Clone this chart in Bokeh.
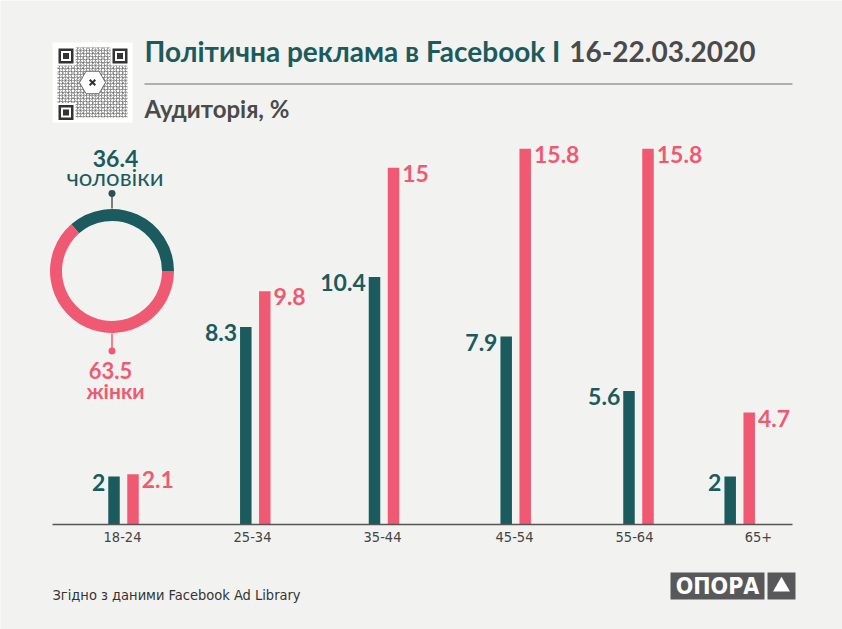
from bokeh.plotting import figure
from bokeh.models import Range1d, ColumnDataSource
from bokeh.core.properties import value
from bokeh.embed import file_html
from bokeh.resources import INLINE
import math

# ---------------- data ----------------
age_groups = ["18-24", "25-34", "35-44", "45-54", "55-64", "65+"]
men = [2, 8.3, 10.4, 7.9, 5.6, 2]
women = [2.1, 9.8, 15, 15.8, 15.8, 4.7]
share_labels = ["чоловіки", "жінки"]
share_values = [36.4, 63.5]
title_main = "Політична реклама в Facebook І"
title_date = "16-22.03.2020"
subtitle = "Аудиторія, %"
source_note = "Згідно з даними  Facebook Ad Library"
logo_text = "ОПОРА"

# ---------------- layout / style ----------------
W, H = 842, 629
BG = "#f2f3f1"
TEAL = "#1b5b5d"
PINK = "#ef5a72"
GRAY = "#4a4a4a"
BOLD = "Lato"
NARROW = "Liberation Sans Narrow, DejaVu Sans Condensed, sans-serif"
K_BOLD = 0.387     # middle-of-box above baseline (em), Lato
K_NARROW = 0.347   # Liberation Sans Narrow

group_x = [123, 254.8, 383.5, 515.2, 638, 739.2]   # bar group centres (px)
label_x = [122, 252, 382, 514, 634, 758]          # tick label centres (px)
bar_off = 9.5
bar_w = 11.5
base_px = 523.5       # baseline (page px from top)
px_per_unit = 23.75

y0 = -(H - base_px) / px_per_unit
y1 = base_px / px_per_unit

p = figure(width=W, height=H, output_backend="svg", toolbar_location=None,
           x_range=Range1d(0, W), y_range=Range1d(y0, y1),
           x_axis_type=None, y_axis_type=None, min_border=0)
p.extra_y_ranges = {"px": Range1d(-H, 0)}
p.background_fill_color = BG
p.border_fill_color = BG
p.outline_line_color = None
p.grid.visible = False


def Y(v):
    return -v


def label(x, baseline, text, size, color, font=BOLD, bold=True, align="left"):
    k = K_BOLD if font == BOLD else K_NARROW
    p.text(x=[x], y=[Y(baseline - k * size)], text=[text], y_range_name="px",
           text_align=align, text_baseline="middle", text_font=value(font),
           text_font_style="bold" if bold else "normal",
           text_font_size=f"{size}px", text_color=color)


# ---------------- bars ----------------
VS = 23
src = ColumnDataSource(dict(
    xm=[g - bar_off for g in group_x],
    xw=[g + bar_off for g in group_x],
    men=men, women=women,
    lm=[f"{v:g}" for v in men], lw=[f"{v:g}" for v in women],
    xlm=[g - bar_off - bar_w / 2 - 3 for g in group_x],
    xlw=[g + bar_off + bar_w / 2 + 3 for g in group_x],
))
p.vbar(x="xm", top="men", bottom=0, width=bar_w, source=src, fill_color=TEAL, line_color=None)
p.vbar(x="xw", top="women", bottom=0, width=bar_w, source=src, fill_color=PINK, line_color=None)
off = 0.72 * VS - K_BOLD * VS - 2
p.text(x="xlm", y="men", text="lm", source=src, text_align="right", text_baseline="middle",
       y_offset=off, text_font=value(BOLD), text_font_style="bold", text_font_size=f"{VS}px", text_color=TEAL)
p.text(x="xlw", y="women", text="lw", source=src, text_align="left", text_baseline="middle",
       y_offset=off, text_font=value(BOLD), text_font_style="bold", text_font_size=f"{VS}px", text_color=PINK)

# axis line + tick labels
p.segment(x0=[52], y0=[Y(524)], x1=[792], y1=[Y(524)], y_range_name="px", line_color="#555555", line_width=1.5)
TS = 14.5
p.text(x=label_x, y=[Y(542 - K_NARROW * TS)] * len(label_x), text=age_groups, y_range_name="px",
       text_align="center", text_baseline="middle", text_font=value(NARROW),
       text_font_size=f"{TS}px", text_color="#444444")

# ---------------- title ----------------
label(144, 61.7, title_main, 28, TEAL)
label(755, 61.7, title_date, 28, GRAY, align="right")
p.segment(x0=[144], y0=[Y(83.5)], x1=[792], y1=[Y(83.5)], y_range_name="px",
          line_color="#9a9a9a", line_width=1.5)
label(144, 117.3, subtitle, 24, GRAY)

# ---------------- QR-like block ----------------
p.rect(x=[92], y=[Y(82)], width=80, height=80, y_range_name="px", fill_color="white", line_color=None)
p.rect(x=[92], y=[Y(82)], width=70, height=70, y_range_name="px", fill_color="white", line_color=None,
       hatch_pattern="+", hatch_color="#555555", hatch_alpha=0.45, hatch_scale=3, hatch_weight=1)
p.rect(x=[92], y=[Y(82)], width=70, height=70, y_range_name="px", fill_alpha=0, line_color=None,
       hatch_pattern="x", hatch_color="#444444", hatch_alpha=0.35, hatch_scale=5, hatch_weight=1)
fx = [65.5, 119.5, 65.5]
fy = [Y(55.5), Y(55.5), Y(112)]
p.rect(x=fx, y=fy, width=19, height=19, y_range_name="px", fill_color="white", line_color=None)
p.rect(x=fx, y=fy, width=15, height=15, y_range_name="px", fill_color="#333333", line_color=None)
p.rect(x=fx, y=fy, width=10, height=10, y_range_name="px", fill_color="white", line_color=None)
p.rect(x=fx, y=fy, width=6, height=6, y_range_name="px", fill_color="#333333", line_color=None)
p.scatter(x=[92], y=[Y(82)], marker="hex", size=26, y_range_name="px", fill_color="white",
          line_color="#666666", line_width=1)
p.scatter(x=[92], y=[Y(82)], marker="x", size=8, y_range_name="px", line_color="#333333", line_width=2)

# ---------------- donut ----------------
cx, cy = 111.5, 270.5
total = sum(share_values)
angles = [0]
for v in share_values:
    angles.append(angles[-1] + 2 * math.pi * v / total)
p.annular_wedge(x=cx, y=Y(cy), inner_radius=50, outer_radius=62, inner_radius_units="screen",
                outer_radius_units="screen", start_angle=angles[:-1], end_angle=angles[1:],
                fill_color=[TEAL, PINK], line_color=None, y_range_name="px")
# leader lines
p.segment(x0=[cx, cx], y0=[Y(193), Y(333)], x1=[cx, cx], y1=[Y(208), Y(350)], y_range_name="px",
          line_color=["#555555", PINK], line_width=1.5)
p.scatter(x=[cx, cx], y=[Y(193), Y(350.5)], size=7, y_range_name="px",
          fill_color=["#2f4f50", PINK], line_color=None)
label(115, 166.5, f"{share_values[0]:g}", 23, TEAL, align="center")
label(114.5, 185.5, share_labels[0], 24, TEAL, bold=False, align="center")
label(110, 379, f"{share_values[1]:g}", 22, PINK, align="center")
label(115, 398, share_labels[1], 21, PINK, align="center")

# ---------------- footer ----------------
label(52, 600, source_note, 14.5, "#333333", font=NARROW, bold=False)
p.rect(x=[717], y=[Y(585.5)], width=94, height=27, y_range_name="px", fill_color="#58585a", line_color=None)
p.rect(x=[781], y=[Y(585.5)], width=28, height=27, y_range_name="px", fill_color="#58585a", line_color=None)
label(717, 593.5, logo_text, 23, "white", font=NARROW, align="center")
p.scatter(x=[781], y=[Y(586)], marker="triangle", size=17, y_range_name="px",
          fill_color="white", line_color=None)

open("out.html", "w").write(file_html(p, INLINE))
